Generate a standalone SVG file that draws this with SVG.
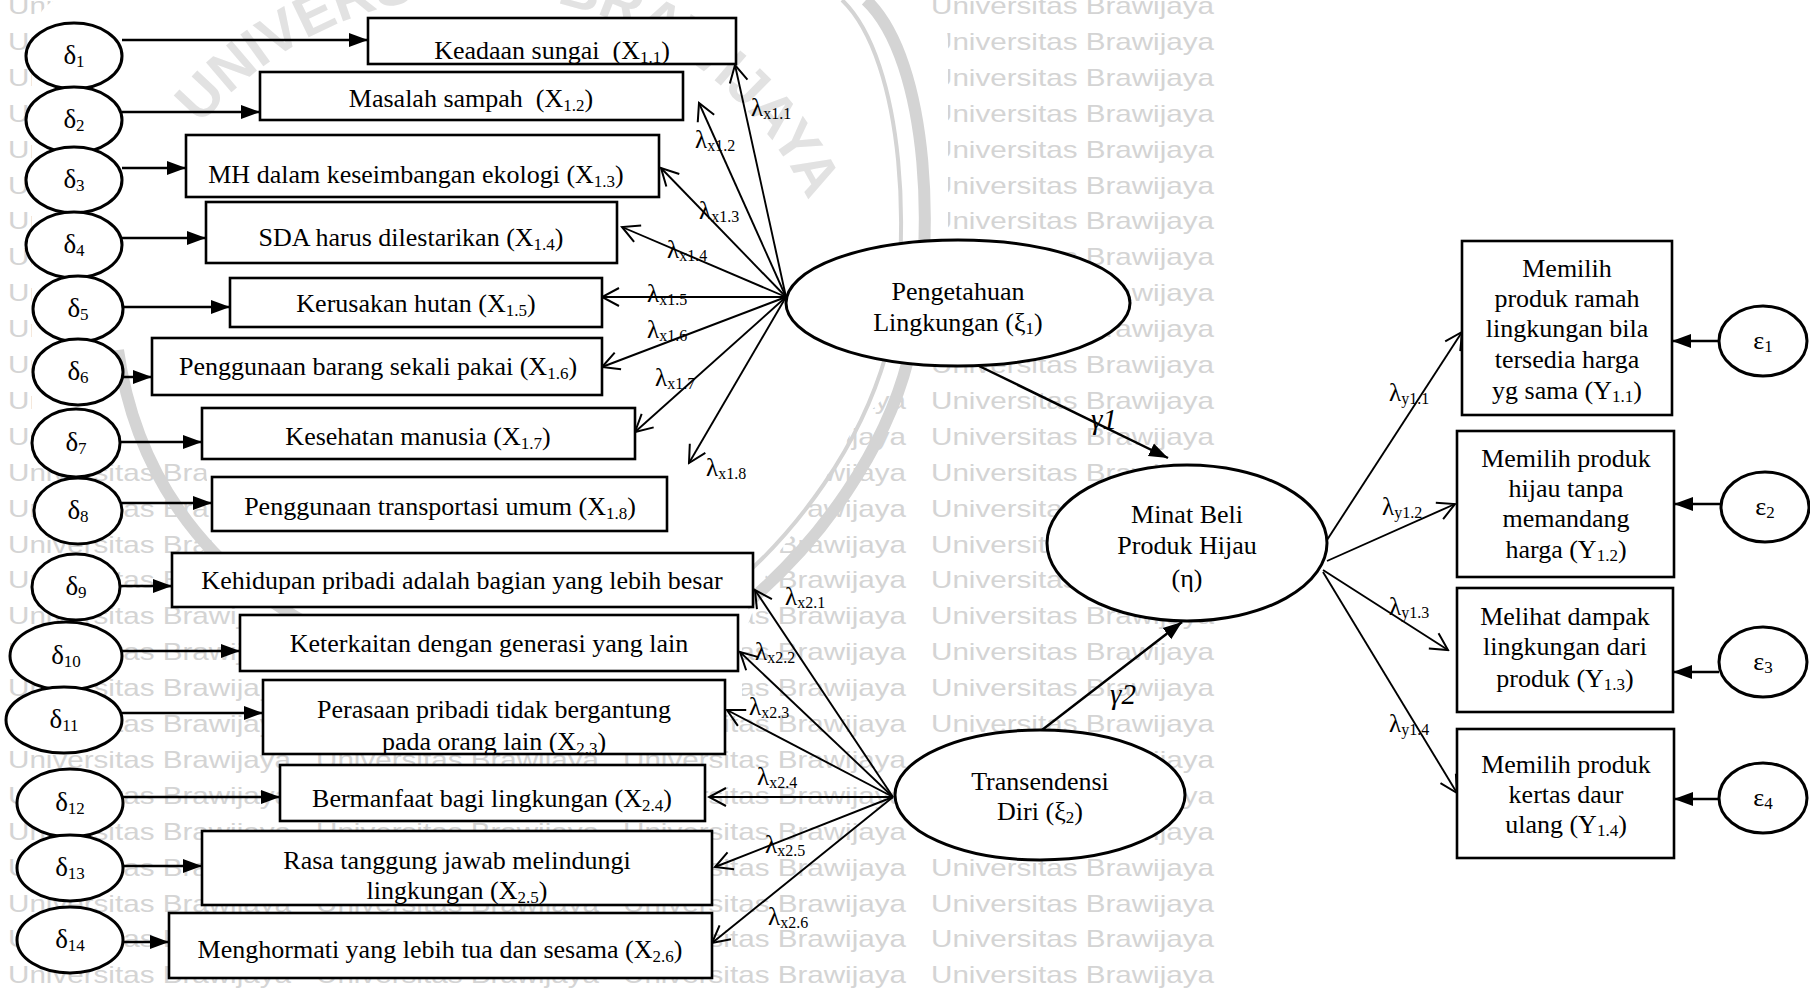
<svg xmlns="http://www.w3.org/2000/svg" width="1810" height="992" viewBox="0 0 1810 992">
<style>
.wm{font-family:"Liberation Sans",Arial,sans-serif;font-size:24px;fill:#d4d4d4}
.logo{font-family:"Liberation Sans",Arial,sans-serif;font-weight:bold;font-size:57px;fill:#e2e2e2}
.ring{fill:none;stroke:#d4d4d4}
.box{fill:#fff;stroke:#000;stroke-width:2.6}
.ell{fill:#fff;stroke:#000;stroke-width:3}
.t{font-family:"Liberation Serif","Times New Roman",serif;font-size:26px;fill:#000;text-anchor:middle}
.dl{font-size:27px}
.lb{font-family:"Liberation Serif","Times New Roman",serif;font-size:25px;fill:#000}
.gm{font-family:"Liberation Serif","Times New Roman",serif;font-size:29px;font-style:italic;fill:#000}
.s{font-size:17px}
.ls{font-size:16px}
.in{stroke:#000;stroke-width:2.5;fill:none;marker-end:url(#solid)}
.ld{stroke:#000;stroke-width:1.9;fill:none;marker-end:url(#open)}
</style>
<defs>
<marker id="solid" markerUnits="userSpaceOnUse" markerWidth="20" markerHeight="16" refX="19" refY="8" orient="auto"><path d="M0,1 L19,8 L0,15 Z" fill="#000"/></marker>
<marker id="open" markerUnits="userSpaceOnUse" markerWidth="22" markerHeight="22" refX="20" refY="11" orient="auto"><path d="M3,2 L20,11 L3,20" fill="none" stroke="#000" stroke-width="2"/></marker>
<clipPath id="c1"><rect x="368" y="18" width="368" height="46"/></clipPath>
<clipPath id="c11"><rect x="263" y="680" width="462" height="74"/></clipPath>
<clipPath id="c13"><rect x="202" y="831" width="510" height="74"/></clipPath>
<path id="logoArc" d="M163.9,177.5 A365,365 0 0,1 832.6,265.5"/>
<g id="wmrow">
<text class="wm" x="8" y="14" textLength="283" lengthAdjust="spacingAndGlyphs">Universitas Brawijaya</text>
<text class="wm" x="316" y="14" textLength="283" lengthAdjust="spacingAndGlyphs">Universitas Brawijaya</text>
<text class="wm" x="623" y="14" textLength="283" lengthAdjust="spacingAndGlyphs">Universitas Brawijaya</text>
<text class="wm" x="931" y="14" textLength="283" lengthAdjust="spacingAndGlyphs">Universitas Brawijaya</text>
</g>
</defs>
<rect width="1810" height="992" fill="#fff"/>

<!-- background watermark -->
<g id="watermark">
<use href="#wmrow"/>
<use href="#wmrow" y="35.9"/><use href="#wmrow" y="71.8"/><use href="#wmrow" y="107.7"/>
<use href="#wmrow" y="143.6"/><use href="#wmrow" y="179.5"/><use href="#wmrow" y="215.4"/>
<use href="#wmrow" y="251.3"/><use href="#wmrow" y="287.2"/><use href="#wmrow" y="323.1"/>
<use href="#wmrow" y="359"/><use href="#wmrow" y="394.9"/><use href="#wmrow" y="430.8"/>
<use href="#wmrow" y="466.7"/><use href="#wmrow" y="502.6"/><use href="#wmrow" y="538.5"/>
<use href="#wmrow" y="574.4"/><use href="#wmrow" y="610.3"/><use href="#wmrow" y="646.2"/>
<use href="#wmrow" y="682.1"/><use href="#wmrow" y="718"/><use href="#wmrow" y="753.9"/>
<use href="#wmrow" y="789.8"/><use href="#wmrow" y="825.7"/><use href="#wmrow" y="861.6"/>
<use href="#wmrow" y="897.5"/><use href="#wmrow" y="933.4"/><use href="#wmrow" y="969.3"/>
<!-- emblem area -->
<path fill="#fff" d="M55,0 L905,0 C935,10 948,25 948,40 L948,300 C946,340 920,370 890,392 L855,426 L835,461 L815,497 L795,531 L770,564 L757,600 L742,640 L742,700 L265,700 L240,620 L212,545 L205,455 L32,450 L32,40 Q35,10 55,0 Z"/>
<path class="ring" stroke-width="12" d="M866,0 C930,60 938,250 908,360 C885,450 822,540 745,605"/>
<path class="ring" stroke-width="4" d="M842,0 C905,60 914,250 886,355 C860,445 800,530 726,592"/>
<path class="ring" stroke-width="12" d="M118,350 C135,470 200,565 310,625"/>
<text class="logo"><textPath href="#logoArc" startOffset="64">UNIVERSITAS BRAWIJAYA</textPath></text>
</g>

<!-- connectors -->
<g id="connectors">
<!-- measurement errors into indicators -->
<line class="in" x1="122" y1="40" x2="368" y2="40"/>
<line class="in" x1="122" y1="112" x2="260" y2="112"/>
<line class="in" x1="122" y1="168" x2="186" y2="168"/>
<line class="in" x1="122" y1="238" x2="206" y2="238"/>
<line class="in" x1="123" y1="307" x2="230" y2="307"/>
<line class="in" x1="123" y1="377" x2="152" y2="377"/>
<line class="in" x1="120" y1="442" x2="202" y2="442"/>
<line class="in" x1="122" y1="503" x2="212" y2="503"/>
<line class="in" x1="120" y1="586" x2="172" y2="586"/>
<line class="in" x1="122" y1="651" x2="240" y2="651"/>
<line class="in" x1="122" y1="713" x2="263" y2="713"/>
<line class="in" x1="123" y1="797" x2="280" y2="797"/>
<line class="in" x1="123" y1="866" x2="202" y2="866"/>
<line class="in" x1="123" y1="942" x2="169" y2="942"/>
<!-- loadings of xi1 -->
<line class="ld" x1="786" y1="297" x2="735" y2="65"/>
<line class="ld" x1="786" y1="297" x2="699" y2="103"/>
<line class="ld" x1="786" y1="297" x2="661" y2="168"/>
<line class="ld" x1="786" y1="297" x2="622" y2="227"/>
<line class="ld" x1="786" y1="297" x2="602" y2="297"/>
<line class="ld" x1="786" y1="297" x2="602" y2="367"/>
<line class="ld" x1="786" y1="297" x2="635" y2="432"/>
<line class="ld" x1="786" y1="297" x2="689" y2="463"/>
<!-- loadings of xi2 -->
<line class="ld" x1="893" y1="797" x2="755" y2="590"/>
<line class="ld" x1="893" y1="797" x2="740" y2="652"/>
<line class="ld" x1="893" y1="797" x2="727" y2="710"/>
<line class="ld" x1="893" y1="797" x2="709" y2="797"/>
<line class="ld" x1="893" y1="797" x2="715" y2="867"/>
<line class="ld" x1="893" y1="797" x2="712" y2="943"/>
<!-- loadings of eta -->
<line class="ld" x1="1327" y1="540" x2="1462" y2="332"/>
<line class="ld" x1="1327" y1="561" x2="1455" y2="504"/>
<line class="ld" x1="1323" y1="570" x2="1448" y2="650"/>
<line class="ld" x1="1323" y1="572" x2="1457" y2="793"/>
<!-- structural paths -->
<line class="in" x1="979" y1="366" x2="1168" y2="458" stroke-width="2"/>
<line class="in" x1="1042" y1="730" x2="1182" y2="622" stroke-width="2"/>
<!-- errors of endogenous indicators -->
<line class="in" x1="1719" y1="341" x2="1672" y2="341"/>
<line class="in" x1="1721" y1="504" x2="1674" y2="504"/>
<line class="in" x1="1719" y1="672" x2="1673" y2="672"/>
<line class="in" x1="1719" y1="799" x2="1674" y2="799"/>
<!-- path labels -->
<text class="lb" x="751" y="116">λ<tspan class="ls" dy="3">x1.1</tspan></text>
<text class="lb" x="695" y="148">λ<tspan class="ls" dy="3">x1.2</tspan></text>
<text class="lb" x="699" y="219">λ<tspan class="ls" dy="3">x1.3</tspan></text>
<text class="lb" x="667" y="258">λ<tspan class="ls" dy="3">x1.4</tspan></text>
<text class="lb" x="647" y="302">λ<tspan class="ls" dy="3">x1.5</tspan></text>
<text class="lb" x="647" y="338">λ<tspan class="ls" dy="3">x1.6</tspan></text>
<text class="lb" x="655" y="386">λ<tspan class="ls" dy="3">x1.7</tspan></text>
<text class="lb" x="706" y="476">λ<tspan class="ls" dy="3">x1.8</tspan></text>
<text class="lb" x="785" y="605">λ<tspan class="ls" dy="3">x2.1</tspan></text>
<text class="lb" x="755" y="660">λ<tspan class="ls" dy="3">x2.2</tspan></text>
<text class="lb" x="749" y="715">λ<tspan class="ls" dy="3">x2.3</tspan></text>
<text class="lb" x="757" y="785">λ<tspan class="ls" dy="3">x2.4</tspan></text>
<text class="lb" x="765" y="853">λ<tspan class="ls" dy="3">x2.5</tspan></text>
<text class="lb" x="768" y="925">λ<tspan class="ls" dy="3">x2.6</tspan></text>
<text class="lb" x="1389" y="401">λ<tspan class="ls" dy="3">y1.1</tspan></text>
<text class="lb" x="1382" y="515">λ<tspan class="ls" dy="3">y1.2</tspan></text>
<text class="lb" x="1389" y="615">λ<tspan class="ls" dy="3">y1.3</tspan></text>
<text class="lb" x="1389" y="732">λ<tspan class="ls" dy="3">y1.4</tspan></text>
<text class="gm" x="1091" y="429">γ1</text>
<text class="gm" x="1110" y="704">γ2</text>
</g>

<!-- error terms delta -->
<g id="d1"><ellipse class="ell" cx="74" cy="56" rx="48" ry="33"/><text class="t dl" x="74" y="64">δ<tspan class="s" dy="3">1</tspan></text></g>
<g id="d2"><ellipse class="ell" cx="74" cy="120" rx="48" ry="33"/><text class="t dl" x="74" y="128">δ<tspan class="s" dy="3">2</tspan></text></g>
<g id="d3"><ellipse class="ell" cx="74" cy="180" rx="48" ry="33"/><text class="t dl" x="74" y="188">δ<tspan class="s" dy="3">3</tspan></text></g>
<g id="d4"><ellipse class="ell" cx="74" cy="245" rx="48" ry="33"/><text class="t dl" x="74" y="253">δ<tspan class="s" dy="3">4</tspan></text></g>
<g id="d5"><ellipse class="ell" cx="78" cy="309" rx="45" ry="33"/><text class="t dl" x="78" y="317">δ<tspan class="s" dy="3">5</tspan></text></g>
<g id="d6"><ellipse class="ell" cx="78" cy="372" rx="45" ry="33"/><text class="t dl" x="78" y="380">δ<tspan class="s" dy="3">6</tspan></text></g>
<g id="d7"><ellipse class="ell" cx="76" cy="443" rx="44" ry="34"/><text class="t dl" x="76" y="451">δ<tspan class="s" dy="3">7</tspan></text></g>
<g id="d8"><ellipse class="ell" cx="78" cy="511" rx="44" ry="33"/><text class="t dl" x="78" y="519">δ<tspan class="s" dy="3">8</tspan></text></g>
<g id="d9"><ellipse class="ell" cx="76" cy="587" rx="44" ry="33"/><text class="t dl" x="76" y="595">δ<tspan class="s" dy="3">9</tspan></text></g>
<g id="d10"><ellipse class="ell" cx="66" cy="656" rx="56" ry="34"/><text class="t dl" x="66" y="664">δ<tspan class="s" dy="3">10</tspan></text></g>
<g id="d11"><ellipse class="ell" cx="64" cy="720" rx="58" ry="33"/><text class="t dl" x="64" y="728">δ<tspan class="s" dy="3">11</tspan></text></g>
<g id="d12"><ellipse class="ell" cx="70" cy="803" rx="53" ry="34"/><text class="t dl" x="70" y="811">δ<tspan class="s" dy="3">12</tspan></text></g>
<g id="d13"><ellipse class="ell" cx="70" cy="868" rx="53" ry="33"/><text class="t dl" x="70" y="876">δ<tspan class="s" dy="3">13</tspan></text></g>
<g id="d14"><ellipse class="ell" cx="70" cy="940" rx="53" ry="33"/><text class="t dl" x="70" y="948">δ<tspan class="s" dy="3">14</tspan></text></g>

<!-- indicators of xi1 -->
<g id="x11"><rect class="box" x="368" y="18" width="368" height="46"/><text class="t" x="552" y="59" clip-path="url(#c1)" xml:space="preserve">Keadaan sungai  (X<tspan class="s" dy="4">1.1</tspan><tspan dy="-4">)</tspan></text></g>
<g id="x12"><rect class="box" x="260" y="72" width="423" height="48"/><text class="t" x="471" y="107" xml:space="preserve">Masalah sampah  (X<tspan class="s" dy="4">1.2</tspan><tspan dy="-4">)</tspan></text></g>
<g id="x13"><rect class="box" x="186" y="135" width="473" height="62"/><text class="t" x="416" y="183">MH dalam keseimbangan ekologi (X<tspan class="s" dy="4">1.3</tspan><tspan dy="-4">)</tspan></text></g>
<g id="x14"><rect class="box" x="206" y="202" width="411" height="61"/><text class="t" x="411" y="246">SDA harus dilestarikan (X<tspan class="s" dy="4">1.4</tspan><tspan dy="-4">)</tspan></text></g>
<g id="x15"><rect class="box" x="230" y="278" width="372" height="49"/><text class="t" x="416" y="312">Kerusakan hutan (X<tspan class="s" dy="4">1.5</tspan><tspan dy="-4">)</tspan></text></g>
<g id="x16"><rect class="box" x="152" y="338" width="450" height="57"/><text class="t" x="378" y="375">Penggunaan barang sekali pakai (X<tspan class="s" dy="4">1.6</tspan><tspan dy="-4">)</tspan></text></g>
<g id="x17"><rect class="box" x="202" y="408" width="433" height="51"/><text class="t" x="418" y="445">Kesehatan manusia (X<tspan class="s" dy="4">1.7</tspan><tspan dy="-4">)</tspan></text></g>
<g id="x18"><rect class="box" x="212" y="477" width="455" height="54"/><text class="t" x="440" y="515">Penggunaan transportasi umum (X<tspan class="s" dy="4">1.8</tspan><tspan dy="-4">)</tspan></text></g>

<!-- indicators of xi2 -->
<g id="x21"><rect class="box" x="172" y="553" width="581" height="54"/><text class="t" x="462" y="589">Kehidupan pribadi adalah bagian yang lebih besar</text></g>
<g id="x22"><rect class="box" x="240" y="615" width="498" height="56"/><text class="t" x="489" y="652">Keterkaitan dengan generasi yang lain</text></g>
<g id="x23"><rect class="box" x="263" y="680" width="462" height="74"/><g clip-path="url(#c11)"><text class="t" x="494" y="718">Perasaan pribadi tidak bergantung</text><text class="t" x="494" y="750">pada orang lain (X<tspan class="s" dy="4">2.3</tspan><tspan dy="-4">)</tspan></text></g></g>
<g id="x24"><rect class="box" x="280" y="765" width="425" height="56"/><text class="t" x="492" y="807">Bermanfaat bagi lingkungan (X<tspan class="s" dy="4">2.4</tspan><tspan dy="-4">)</tspan></text></g>
<g id="x25"><rect class="box" x="202" y="831" width="510" height="74"/><g clip-path="url(#c13)"><text class="t" x="457" y="869">Rasa tanggung jawab melindungi</text><text class="t" x="457" y="899">lingkungan (X<tspan class="s" dy="4">2.5</tspan><tspan dy="-4">)</tspan></text></g></g>
<g id="x26"><rect class="box" x="169" y="913" width="543" height="65"/><text class="t" x="440" y="958">Menghormati yang lebih tua dan sesama (X<tspan class="s" dy="4">2.6</tspan><tspan dy="-4">)</tspan></text></g>

<!-- latent variables -->
<g id="xi1"><ellipse class="ell" cx="958" cy="303" rx="172" ry="63"/><text class="t" x="958" y="300">Pengetahuan</text><text class="t" x="958" y="331">Lingkungan (ξ<tspan class="s" dy="3">1</tspan><tspan dy="-3">)</tspan></text></g>
<g id="xi2"><ellipse class="ell" cx="1040" cy="795" rx="145" ry="65"/><text class="t" x="1040" y="790">Transendensi</text><text class="t" x="1040" y="820">Diri (ξ<tspan class="s" dy="3">2</tspan><tspan dy="-3">)</tspan></text></g>
<g id="eta"><ellipse class="ell" cx="1187" cy="543" rx="140" ry="78"/><text class="t" x="1187" y="523">Minat Beli</text><text class="t" x="1187" y="554">Produk Hijau</text><text class="t" x="1187" y="587">(η)</text></g>

<!-- indicators of eta -->
<g id="y11"><rect class="box" x="1462" y="241" width="210" height="174"/><text class="t" x="1567" y="277">Memilih</text><text class="t" x="1567" y="307">produk ramah</text><text class="t" x="1567" y="337">lingkungan bila</text><text class="t" x="1567" y="368">tersedia harga</text><text class="t" x="1567" y="399">yg sama (Y<tspan class="s" dy="3">1.1</tspan><tspan dy="-3">)</tspan></text></g>
<g id="y12"><rect class="box" x="1457" y="431" width="217" height="146"/><text class="t" x="1566" y="467">Memilih produk</text><text class="t" x="1566" y="497">hijau tanpa</text><text class="t" x="1566" y="527">memandang</text><text class="t" x="1566" y="558">harga (Y<tspan class="s" dy="3">1.2</tspan><tspan dy="-3">)</tspan></text></g>
<g id="y13"><rect class="box" x="1457" y="588" width="216" height="124"/><text class="t" x="1565" y="625">Melihat dampak</text><text class="t" x="1565" y="655">lingkungan dari</text><text class="t" x="1565" y="687">produk (Y<tspan class="s" dy="3">1.3</tspan><tspan dy="-3">)</tspan></text></g>
<g id="y14"><rect class="box" x="1457" y="729" width="217" height="129"/><text class="t" x="1566" y="773">Memilih produk</text><text class="t" x="1566" y="803">kertas daur</text><text class="t" x="1566" y="833">ulang (Y<tspan class="s" dy="3">1.4</tspan><tspan dy="-3">)</tspan></text></g>

<!-- error terms epsilon -->
<g id="e1"><ellipse class="ell" cx="1763" cy="341" rx="44" ry="35" stroke-width="2.5"/><text class="t" x="1763" y="349">ε<tspan class="s" dy="3">1</tspan></text></g>
<g id="e2"><ellipse class="ell" cx="1765" cy="507" rx="44" ry="35" stroke-width="2.5"/><text class="t" x="1765" y="515">ε<tspan class="s" dy="3">2</tspan></text></g>
<g id="e3"><ellipse class="ell" cx="1763" cy="662" rx="44" ry="35" stroke-width="2.5"/><text class="t" x="1763" y="670">ε<tspan class="s" dy="3">3</tspan></text></g>
<g id="e4"><ellipse class="ell" cx="1763" cy="798" rx="44" ry="35" stroke-width="2.5"/><text class="t" x="1763" y="806">ε<tspan class="s" dy="3">4</tspan></text></g>
</svg>
